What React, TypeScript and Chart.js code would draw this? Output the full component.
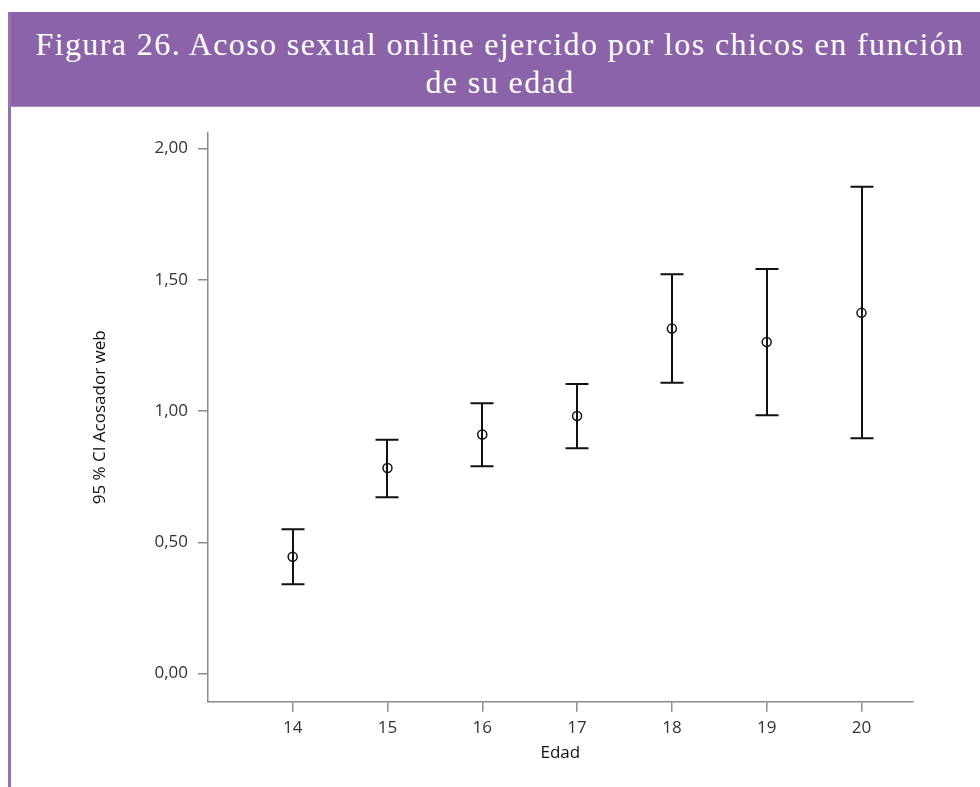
import React, { useEffect, useRef } from "react";
import { Chart, registerables } from "chart.js";

Chart.register(...registerables);

const ages = [14, 15, 16, 17, 18, 19, 20];
const means = [0.445, 0.783, 0.911, 0.981, 1.314, 1.263, 1.374];
const lowerCI = [0.34, 0.672, 0.79, 0.858, 1.108, 0.984, 0.896];
const upperCI = [0.55, 0.891, 1.03, 1.103, 1.521, 1.541, 1.854];
const yTicks = [0, 0.5, 1, 1.5, 2];
const xTicks = [14, 15, 16, 17, 18, 19, 20];
const titleLines = [
  "Figura 26. Acoso sexual online ejercido por los chicos en función",
  "de su edad",
];
const xTitle = "Edad";
const yTitle = "95 % CI Acosador web";

const PURPLE = "#8B63A8";
const AXIS = "#8c8c8c";
const TEXT = "#333333";
const FONT = "'Open Sans', Lato, sans-serif";
const FSIZE = 17;

const errorBars = {
  id: "errorBars",
  beforeDatasetsDraw(chart: any) {
    const { ctx, scales } = chart;
    const x = scales.x;
    const y = scales.y;
    ctx.save();
    ctx.strokeStyle = "#111111";
    ctx.lineWidth = 2;
    ages.forEach((a, i) => {
      const px = Math.round(x.getPixelForValue(a));
      const top = y.getPixelForValue(upperCI[i]);
      const bot = y.getPixelForValue(lowerCI[i]);
      ctx.beginPath();
      ctx.moveTo(px, top);
      ctx.lineTo(px, bot);
      ctx.moveTo(px - 11.5, top);
      ctx.lineTo(px + 11.5, top);
      ctx.moveTo(px - 11.5, bot);
      ctx.lineTo(px + 11.5, bot);
      ctx.stroke();
    });
    ctx.restore();
  },
};

export default function App() {
  const ref = useRef<HTMLCanvasElement | null>(null);

  useEffect(() => {
    if (!ref.current) return;
    const chart = new Chart(ref.current, {
      type: "scatter",
      data: {
        datasets: [
          {
            label: "Media",
            data: ages.map((a, i) => ({ x: a, y: means[i] })),
            pointRadius: 4.5,
            pointHoverRadius: 4.5,
            pointBorderWidth: 1.5,
            pointBorderColor: "#111111",
            pointBackgroundColor: "rgba(0,0,0,0)",
            showLine: false,
          },
        ],
      },
      plugins: [errorBars],
      options: {
        responsive: false,
        animation: false,
        events: [],
        layout: { padding: { left: 0, top: 133, right: 67.3, bottom: 0 } },
        plugins: {
          legend: { display: false },
          tooltip: { enabled: false },
          title: { display: false },
        },
        scales: {
          x: {
            type: "linear",
            min: 13.107,
            max: 20.54,
            afterBuildTicks: (s: any) => {
              s.ticks = xTicks.map((v) => ({ value: v }));
            },
            afterFit: (s: any) => {
              s.height = 85.3;
            },
            grid: {
              drawOnChartArea: false,
              drawTicks: true,
              tickLength: 10,
              color: AXIS,
              lineWidth: 1.5,
            },
            border: { display: true, color: AXIS, width: 1.5 },
            ticks: {
              padding: 6,
              color: TEXT,
              font: { family: FONT, size: FSIZE },
              callback: (v: any) => String(v),
            },
            title: {
              display: true,
              text: xTitle,
              color: "#111111",
              font: { family: FONT, size: FSIZE },
              padding: { top: 0, bottom: 24 },
            },
          },
          y: {
            type: "linear",
            min: -0.107,
            max: 2.059,
            afterBuildTicks: (s: any) => {
              s.ticks = yTicks.map((v) => ({ value: v }));
            },
            afterFit: (s: any) => {
              s.width = 208;
            },
            grid: {
              drawOnChartArea: false,
              drawTicks: true,
              tickLength: 10,
              color: AXIS,
              lineWidth: 1.5,
            },
            border: { display: true, color: AXIS, width: 1.5 },
            ticks: {
              padding: 10,
              color: TEXT,
              font: { family: FONT, size: FSIZE },
              callback: (v: any) => Number(v).toFixed(2).replace(".", ","),
            },
            title: {
              display: true,
              text: yTitle,
              color: "#111111",
              font: { family: FONT, size: FSIZE },
              padding: { top: 89.8, bottom: 0 },
            },
          },
        },
      },
    });
    return () => chart.destroy();
  }, []);

  return (
    <div
      style={{
        position: "absolute",
        left: 0,
        top: 0,
        width: 980,
        height: 787,
        background: "#ffffff",
        overflow: "hidden",
      }}
    >
      <div
        style={{
          position: "absolute",
          left: 8,
          top: 12,
          width: 972,
          height: 95,
          background: PURPLE,
          borderBottom: "1px solid #a889c0",
          boxSizing: "border-box",
          paddingTop: 13,
          paddingLeft: 12,
          color: "#ffffff",
          fontFamily: "'Liberation Serif', 'DejaVu Serif', serif",
          fontSize: 32,
          letterSpacing: 1.4,
          lineHeight: "38px",
          textAlign: "center",
          whiteSpace: "nowrap",
        }}
      >
        {titleLines.map((t, i) => (
          <div key={i}>{t}</div>
        ))}
      </div>
      <div
        style={{
          position: "absolute",
          left: 8,
          top: 12,
          width: 3,
          height: 775,
          background: "#9670B3",
        }}
      />
      <canvas
        ref={ref}
        width={980}
        height={787}
        style={{ position: "absolute", left: 0, top: 0, width: 980, height: 787 }}
      />
    </div>
  );
}
